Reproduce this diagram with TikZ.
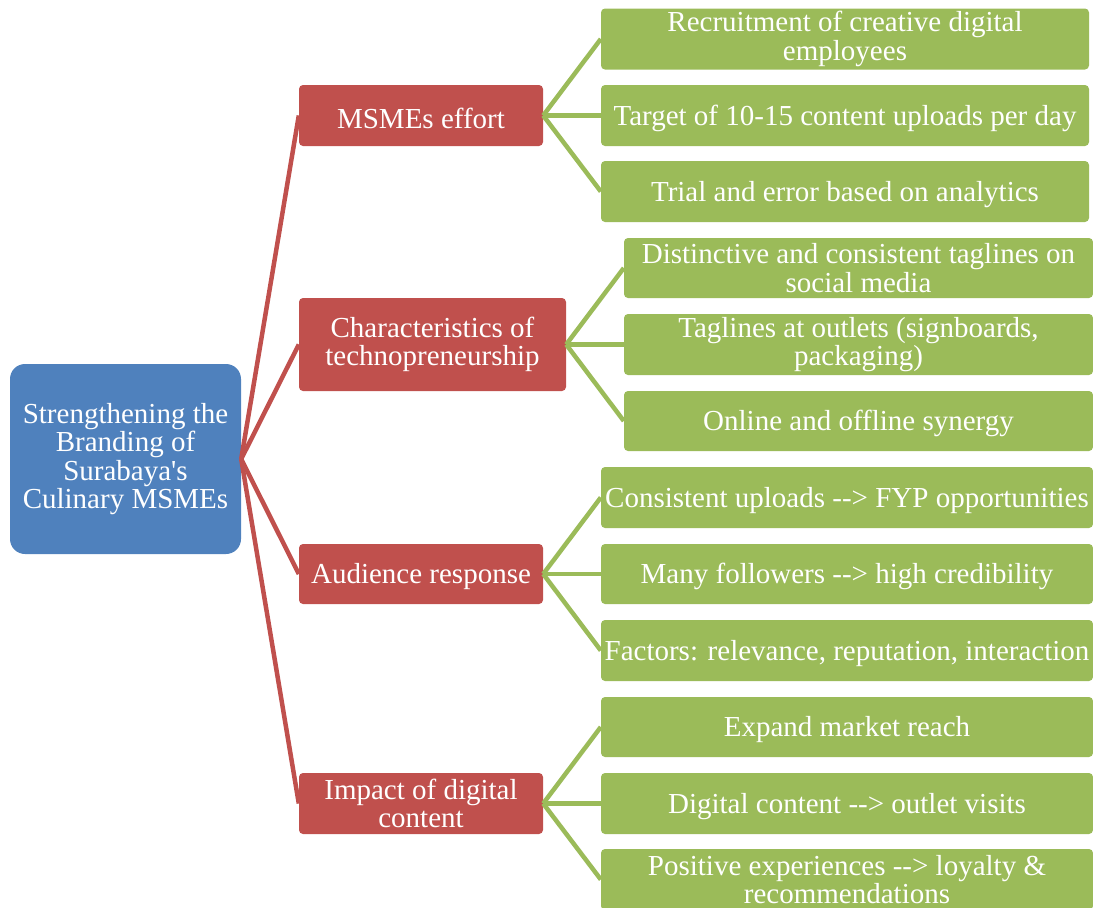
\documentclass[tikz,border=0pt]{standalone}
\usepackage{fontspec}
\setmainfont{Liberation Serif}[Ligatures=TeXOff]
\usepackage{tikz}
\definecolor{rootblue}{HTML}{4F81BD}
\definecolor{catred}{HTML}{C0504D}
\definecolor{leafgreen}{HTML}{9BBB59}
\tikzset{boxtext/.style={text=white,align=center,inner sep=0pt,font=\fontsize{29}{28.5}\selectfont,execute at begin node={\rule{0pt}{26pt}}}}
\tikzset{root/.style={boxtext,fill=rootblue,rounded corners=15pt,minimum width=231pt,minimum height=190pt}}
\tikzset{cat/.style={boxtext,fill=catred,rounded corners=4pt,minimum width=244pt,minimum height=61pt}}
\tikzset{leaf/.style={boxtext,fill=leafgreen,rounded corners=4pt,minimum width=492pt,minimum height=61pt}}
\tikzset{redlink/.style={catred,line width=4.5pt}}
\tikzset{greenlink/.style={leafgreen,line width=4.5pt}}

\begin{document}
\begin{tikzpicture}[x=1pt,y=-1pt]
    \useasboundingbox (0,0) rectangle (1093,908);
    \clip (0,0) rectangle (1093,908);
    \node[root] (brand) at (125.5,459) {Strengthening the\\Branding of\\Surabaya's\\Culinary MSMEs};
    \node[cat] (effort) at (421,115.5) {MSMEs effort};
    \node[cat,minimum width=267pt,minimum height=93pt] (techno) at (432.5,344.5) {Characteristics of\\technopreneurship};
    \node[cat,minimum height=60pt] (audience) at (421,574) {Audience response};
    \node[cat] (impact) at (421,803.5) {Impact of digital\\content};
    \draw[redlink] (brand.east) -- (effort.west);
    \draw[redlink] (brand.east) -- (techno.west);
    \draw[redlink] (brand.east) -- (audience.west);
    \draw[redlink] (brand.east) -- (impact.west);
    \node[leaf,minimum width=488pt] (recruit) at (845,39) {Recruitment of creative digital\\employees};
    \node[leaf,minimum width=488pt] (target) at (845,115.5) {Target of 10-15 content uploads per day};
    \node[leaf,minimum width=488pt] (trial) at (845,191.5) {Trial and error based on analytics};
    \draw[greenlink] (effort.east) -- (recruit.west);
    \draw[greenlink] (effort.east) -- (target.west);
    \draw[greenlink] (effort.east) -- (trial.west);
    \node[leaf,minimum width=469pt,minimum height=60pt] (social) at (858.5,268) {Distinctive and consistent taglines on\\social media};
    \node[leaf,minimum width=469pt] (outlets) at (858.5,344.5) {Taglines at outlets (signboards,\\packaging)};
    \node[leaf,minimum width=469pt,minimum height=60pt] (synergy) at (858.5,421) {Online and offline synergy};
    \draw[greenlink] (techno.east) -- (social.west);
    \draw[greenlink] (techno.east) -- (outlets.west);
    \draw[greenlink] (techno.east) -- (synergy.west);
    \node[leaf] (uploads) at (847,497.5) {Consistent uploads --> FYP opportunities};
    \node[leaf,minimum height=60pt] (followers) at (847,574) {Many followers --> high credibility};
    \node[leaf] (factors) at (847,650.5) {Factors: relevance, reputation, interaction};
    \draw[greenlink] (audience.east) -- (uploads.west);
    \draw[greenlink] (audience.east) -- (followers.west);
    \draw[greenlink] (audience.east) -- (factors.west);
    \node[leaf,minimum height=60pt] (reach) at (847,727) {Expand market reach};
    \node[leaf] (visits) at (847,803.5) {Digital content --> outlet visits};
    \node[leaf] (loyalty) at (847,879.5) {Positive experiences --> loyalty \&\\recommendations};
    \draw[greenlink] (impact.east) -- (reach.west);
    \draw[greenlink] (impact.east) -- (visits.west);
    \draw[greenlink] (impact.east) -- (loyalty.west);
\end{tikzpicture}
\end{document}
